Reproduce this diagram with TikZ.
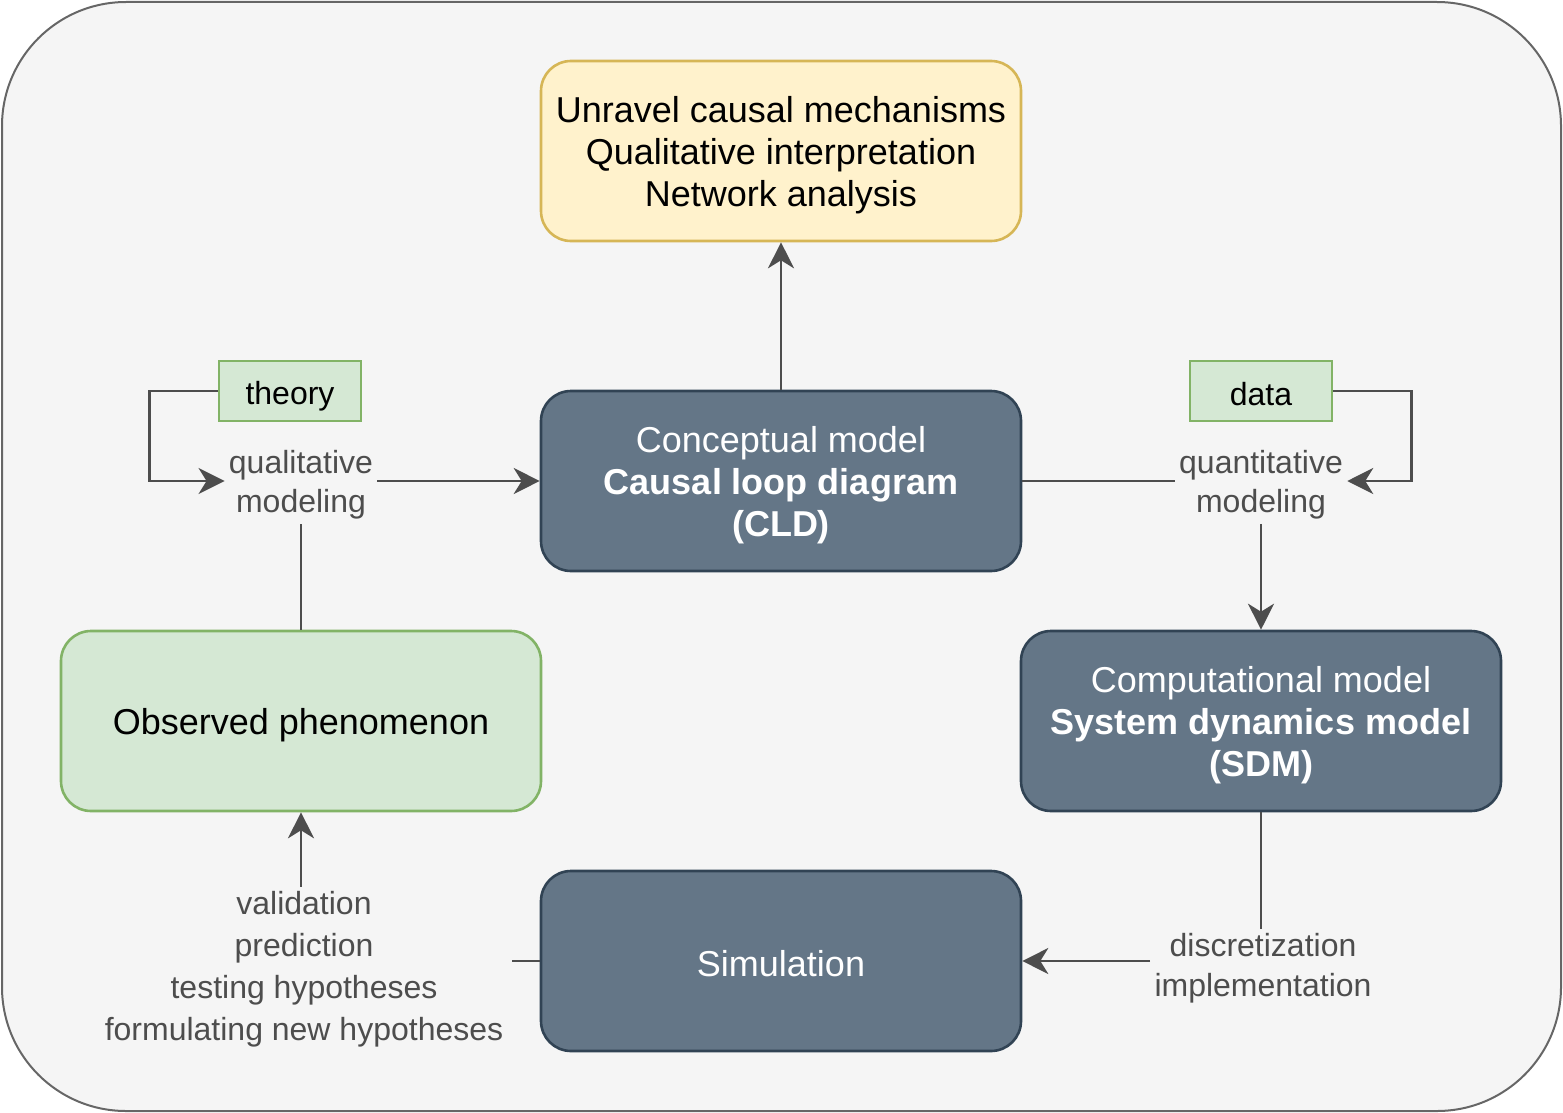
\documentclass[tikz,border=0pt]{standalone}
\usepackage{fontspec}
\setmainfont{Liberation Sans}
\usetikzlibrary{arrows.meta}

\definecolor{bgfill}{HTML}{F5F5F5}
\definecolor{bgline}{HTML}{666666}
\definecolor{darkfill}{HTML}{647687}
\definecolor{darkline}{HTML}{314354}
\definecolor{greenfill}{HTML}{D5E8D4}
\definecolor{greenline}{HTML}{82B366}
\definecolor{yellowfill}{HTML}{FFF2CC}
\definecolor{yellowline}{HTML}{D6B656}
\definecolor{linkgray}{HTML}{4D4D4D}

\newcommand\bigstrut{\rule{0pt}{17pt}}
\newcommand\lblstrut{\rule{0pt}{15.7pt}}

\tikzset{
  box/.style={rounded corners=15pt, line width=1.3pt, minimum width=240pt, minimum height=90pt, align=center, font=\fontsize{18}{21}\selectfont},
  modelbox/.style={box, fill=darkfill, draw=darkline, text=white},
  goalbox/.style={box, fill=yellowfill, draw=yellowline},
  obsbox/.style={box, fill=greenfill, draw=greenline},
  srcbox/.style={fill=greenfill, draw=greenline, line width=1.3pt, minimum width=71pt, minimum height=30pt, font=\fontsize{16}{19}\selectfont},
  lbl/.style={align=center, text=linkgray, inner sep=2pt, font=\fontsize{16}{19.5}\selectfont},
  link/.style={draw=linkgray, line width=1.3pt},
}

\begin{document}
\begin{tikzpicture}[x=0.5pt, y=-0.5pt, >={Stealth[length=13pt, width=13pt, inset=4pt]}]
\useasboundingbox (0,0) rectangle (1563,1113);
\draw[fill=bgfill, draw=bgline, line width=1pt, rounded corners=62pt] (2,2) rectangle (1561,1111);

% boxes
\node[goalbox] (goal) at (781,151) {\bigstrut Unravel causal mechanisms\\Qualitative interpretation\\Network analysis};
\node[modelbox] (cld) at (781,481) {\bigstrut Conceptual model\\\textbf{Causal loop diagram}\\\textbf{(CLD)}};
\node[obsbox] (obs) at (301,721) {\bigstrut Observed phenomenon};
\node[modelbox] (sdm) at (1261,721) {\bigstrut Computational model\\\textbf{System dynamics model}\\\textbf{(SDM)}};
\node[modelbox] (sim) at (781,961) {\rule{0pt}{15.5pt}Simulation};
\node[srcbox] (theory) at (290,391) {\rule{0pt}{16.7pt}theory};
\node[srcbox] (data) at (1261,391) {\rule{0pt}{15pt}data};

% labels on the links
\node[lbl] (qual) at (301,481) {\lblstrut qualitative\\modeling};
\node[lbl] (quant) at (1261,481) {\lblstrut quantitative\\modeling};
\node[lbl, font=\fontsize{16}{20}\selectfont] (disc) at (1263,968) {discretization\\implementation};
\node[lbl, font=\fontsize{16}{21}\selectfont, inner xsep=4pt] (valid) at (304,969) {validation\\prediction\\testing hypotheses\\formulating new hypotheses};

% links
\draw[link,->] (cld) -- (goal);
\draw[link] (obs) -- (qual);
\draw[link,->] (qual) -- (cld);
\draw[link,->] (theory.west) -- ++(-68,0) |- (qual);
\draw[link] (cld) -- (quant);
\draw[link,->] (quant) -- (sdm);
\draw[link,->] (data.east) -- ++(78,0) |- (quant);
\draw[link] (sdm) -- (sdm |- disc.north);
\draw[link,->] (disc.west |- sim) -- (sim);
\draw[link] (sim) -- (sim -| valid.east);
\draw[link,->] (valid.north -| obs) -- (obs);
\end{tikzpicture}
\end{document}
